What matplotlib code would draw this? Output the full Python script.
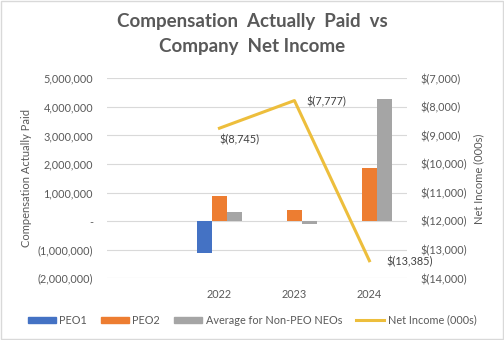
import matplotlib.pyplot as plt
import numpy as np
from matplotlib.patches import Rectangle
from matplotlib.lines import Line2D
from matplotlib.ticker import FuncFormatter

# data
years = ['', '2022', '2023', '2024']
peo1 = [np.nan, -1_100_000, np.nan, np.nan]
peo2 = [np.nan, 880_000, 390_000, 1_870_000]
non_peo = [np.nan, 320_000, -90_000, 4_280_000]
net_income = [np.nan, -8745, -7777, -13385]

blue = '#4472C4'
orange = '#ED7D31'
grey = '#A5A5A5'
gold = '#EDBE3C'
text_c = '#595959'

plt.rcParams['font.family'] = ['Lato', 'DejaVu Sans']

fig = plt.figure(figsize=(5.04, 3.4), dpi=100)
ax = fig.add_axes([0.2123, 0.1815, 0.595, 0.588])
ax2 = ax.twinx()

x = np.arange(len(years))
w = 0.2
ax.bar(x - w, peo1, w, color=blue, zorder=3)
ax.bar(x, peo2, w, color=orange, zorder=3)
ax.bar(x + w, non_peo, w, color=grey, zorder=3)

ax2.plot(x, net_income, color=gold, linewidth=2.2, zorder=4)

# value labels on the net income line
offsets = {1: (0, -8), 2: (9, -1), 3: (12, -1)}
for i, v in enumerate(net_income):
    if np.isnan(v):
        continue
    dx, dy = offsets[i]
    ax2.annotate(f'$({abs(v):,.0f})', (x[i], v), xytext=(dx, dy),
                 textcoords='offset points', fontsize=7.8, color='#404040',
                 ha='left', va='center')

ax.set_xlim(-0.5, 3.5)
ax.set_ylim(-2_000_000, 5_000_000)
ax.set_yticks(np.arange(-2_000_000, 5_000_001, 1_000_000))
ax2.set_ylim(-14000, -7000)
ax2.set_yticks(np.arange(-14000, -6999, 1000))


def left_fmt(v, pos):
    if v == 0:
        return '-'
    if v < 0:
        return f'({abs(v):,.0f})'
    return f'{v:,.0f}'


def right_fmt(v, pos):
    return f'$({abs(v):,.0f})' if v < 0 else f'${v:,.0f}'


ax.yaxis.set_major_formatter(FuncFormatter(left_fmt))
ax2.yaxis.set_major_formatter(FuncFormatter(right_fmt))

ax.set_xticks(x)
ax.set_xticklabels(years)
ax.grid(axis='y', color='#D9D9D9', linewidth=0.8, zorder=0)
for a in (ax, ax2):
    for s in a.spines.values():
        s.set_visible(False)
    a.tick_params(length=0, labelsize=7.8, labelcolor=text_c)
ax.tick_params(axis='y', pad=10)
ax.tick_params(axis='x', pad=8)
ax2.tick_params(axis='y', pad=10)

ax.set_ylabel('Compensation Actually Paid', fontsize=8, color=text_c, labelpad=4)
ax2.set_ylabel('Net Income (000s)', fontsize=8, color=text_c, labelpad=4)

fig.text(0.5, 1 - 13 / 340, 'Compensation  Actually  Paid  vs\nCompany  Net Income',
         ha='center', va='top', fontsize=13.5, fontweight='bold', color=text_c,
         linespacing=1.6)

handles = [
    Rectangle((0, 0), 1, 1, color=blue),
    Rectangle((0, 0), 1, 1, color=orange),
    Rectangle((0, 0), 1, 1, color=grey),
    Line2D([0], [0], color=gold, linewidth=2.2),
]
labels = ['PEO1', 'PEO2', 'Average for Non-PEO NEOs', 'Net Income (000s)']
fig.legend(handles, labels, loc='center', bbox_to_anchor=(0.5, 0.058), ncol=4,
           frameon=False, fontsize=7.8, labelcolor=text_c, handlelength=2.6,
           handleheight=0.45, handletextpad=0.3, columnspacing=1.3)

fig.patches.append(Rectangle((0.002, 0.003), 0.996, 0.994, transform=fig.transFigure,
                             fill=False, edgecolor='#D9D9D9', linewidth=1))

fig.savefig('out.png', dpi=100)
